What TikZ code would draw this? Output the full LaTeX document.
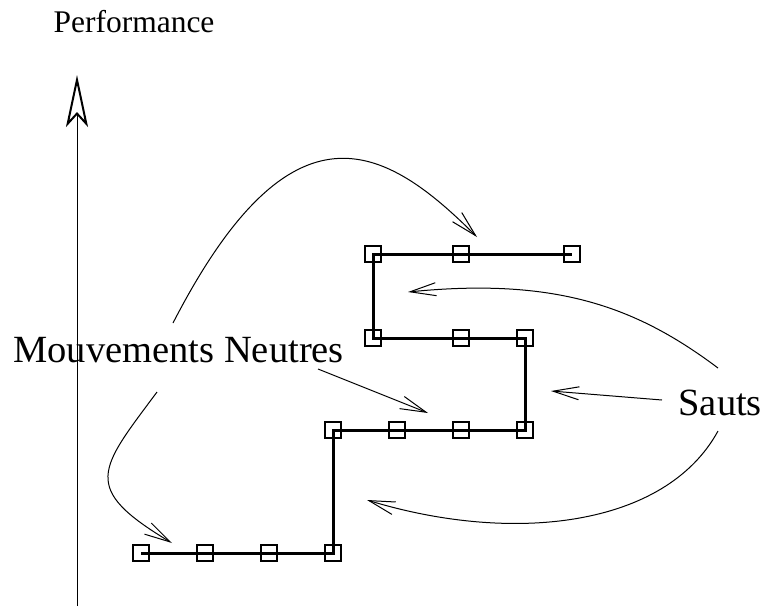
\documentclass[tikz,border=0pt]{standalone}
\usepackage{fontspec}
\setmainfont{Liberation Serif}
\usetikzlibrary{arrows.meta}
\begin{document}
\begin{tikzpicture}[x=1pt,y=-1pt,>={Straight Barb[length=26pt,width=13pt]},line width=1pt,
  sqbox/.style={draw,line width=1.4pt,minimum size=16pt,inner sep=0pt},
  chemin/.style={line width=3pt,line join=miter},
  bigtext/.style={font=\fontsize{38.5}{44}\selectfont,inner sep=0pt}]
  \useasboundingbox (0,0) rectangle (762,611);

  % 纵轴 Performance
  \coordinate (O) at (77,606);
  \coordinate (Y) at (77,75);
  \draw[-{Stealth[open,length=52pt,width=22pt,inset=12pt,line width=2pt]}] (O) -- (Y);
  \node[anchor=base,inner sep=0pt,font=\fontsize{31.5}{36}\selectfont] (perf) at (134,32) {Performance};

  % 方格点
  \foreach \n/\x/\y in {a1/141/553,a2/205/553,a3/269/553,a4/333/553,
      b1/333/430,b2/397/430,b3/461/430,b4/525/430,
      c1/373/338,c2/461/338,c3/525/338,
      d1/373/254,d2/461/254,d3/572/254}
    \node[sqbox] (\n) at (\x,\y) {};

  % 路径
  \draw[chemin] (a1.center) -- (a4.center) -- (b1.center) -- (b4.center)
    -- (c3.center) -- (c1.center) -- (d1.center) -- (d3.center);

  % 文字
  \node[bigtext,anchor=base west] (mn) at (13,362) {Mouvements Neutres};
  \node[bigtext,anchor=base west] (sauts) at (678,415) {Sauts};

  % 箭头端点
  \coordinate (mn-a) at (173,323);
  \coordinate (mn-b) at (157,392);
  \coordinate (mn-c) at (318,369);
  \coordinate (s-a) at (718,368);
  \coordinate (s-b) at (662,400);
  \coordinate (s-c) at (718,431);
  \coordinate (t1) at (477,237);
  \coordinate (t2) at (172,543);
  \coordinate (t3) at (428,413);
  \coordinate (t4) at (408,292);
  \coordinate (t5) at (551,391);
  \coordinate (t6) at (367,500);

  % Mouvements Neutres
  \draw[->] (mn-a) .. controls (292,92) and (385,145) .. (t1);
  \draw[->] (mn-b) .. controls (99,470) and (80,488) .. (t2);
  \draw[->] (mn-c) -- (t3);

  % Sauts
  \draw[->] (s-a) .. controls (638,308) and (558,277) .. (t4);
  \draw[->] (s-b) -- (t5);
  \draw[->] (s-c) .. controls (665,528) and (511,544) .. (t6);
\end{tikzpicture}
\end{document}
